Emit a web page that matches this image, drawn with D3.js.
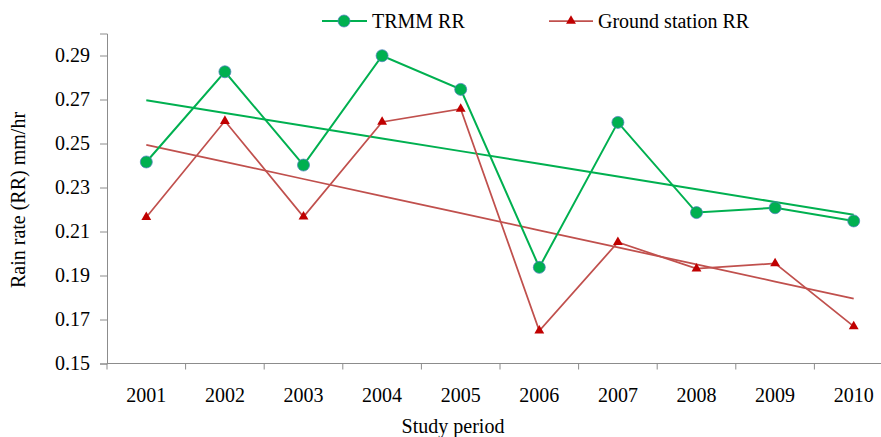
<!DOCTYPE html>
<html>
<head>
<meta charset="utf-8">
<script src="https://cdn.jsdelivr.net/npm/d3@7"></script>
<style>
  body { margin: 0; background: #fff; }
  svg text { font-family: "Liberation Serif", "Times New Roman", serif; fill: #000; }
</style>
</head>
<body>
<svg id="chart" width="881" height="437"></svg>
<script>
const years = ["2001", "2002", "2003", "2004", "2005", "2006", "2007", "2008", "2009", "2010"];
const trmm = [0.2416, 0.2826, 0.2402, 0.2899, 0.2746, 0.1937, 0.2596, 0.2186, 0.2208, 0.2148];
const ground = [0.2165, 0.2602, 0.2167, 0.2598, 0.2657, 0.1649, 0.2051, 0.1931, 0.1955, 0.1669];
const yTicks = [0.15, 0.17, 0.19, 0.21, 0.23, 0.25, 0.27, 0.29];

const green = "#00b050", red = "#c0504d", redMarker = "#c00000";
const serif = "'Liberation Serif','Times New Roman',serif";

const svg = d3.select("#chart");
const x = d3.scaleBand().domain(years).range([107, 893]).padding(0);
const y = d3.scaleLinear().domain([0.15, 0.30]).range([363.5, 33.5]);
const cx = d => x(d) + x.bandwidth() / 2;

// y axis
const yAxis = svg.append("g").attr("transform", "translate(107,0)")
  .call(d3.axisLeft(y).tickValues(yTicks).tickFormat(d3.format(".2f")).tickSizeOuter(0).tickSize(7).tickPadding(10))
  .attr("font-family", serif).attr("font-size", 20);
yAxis.select(".domain").attr("stroke", "#8c8c8c");
yAxis.selectAll(".tick line").attr("stroke", "#8c8c8c");

// x axis with ticks between categories
const xAxis = svg.append("g").attr("transform", "translate(0,363.5)");
xAxis.append("line").attr("x1", 107).attr("x2", 893).attr("stroke", "#8c8c8c");
xAxis.selectAll("line.t").data(years).enter().append("line").attr("class", "t")
  .attr("x1", d => x(d)).attr("x2", d => x(d)).attr("y1", 0).attr("y2", 6).attr("stroke", "#8c8c8c");
xAxis.selectAll("text").data(years).enter().append("text")
  .attr("x", d => cx(d)).attr("y", 38).attr("text-anchor", "middle").attr("font-size", 20).text(d => d);

// axis titles
svg.append("text").attr("x", 453).attr("y", 433).attr("text-anchor", "middle").attr("font-size", 20).text("Study period");
svg.append("text").attr("transform", "translate(25,200) rotate(-90)").attr("text-anchor", "middle")
  .attr("font-size", 20).text("Rain rate (RR) mm/hr");

// linear trend
function trend(vals) {
  const n = vals.length, xs = d3.range(1, n + 1);
  const mx = d3.mean(xs), my = d3.mean(vals);
  const b = d3.sum(xs, (v, i) => (v - mx) * (vals[i] - my)) / d3.sum(xs, v => (v - mx) ** 2);
  return xs.map(v => my + b * (v - mx));
}

const line = d3.line().x((d, i) => cx(years[i])).y(d => y(d));

svg.append("path").datum(trend(trmm)).attr("d", line).attr("fill", "none").attr("stroke", green).attr("stroke-width", 2);
svg.append("path").datum(trend(ground)).attr("d", line).attr("fill", "none").attr("stroke", red).attr("stroke-width", 1.75);

svg.append("path").datum(ground).attr("d", line).attr("fill", "none").attr("stroke", red).attr("stroke-width", 1.75);
svg.append("path").datum(trmm).attr("d", line).attr("fill", "none").attr("stroke", green).attr("stroke-width", 2);

const tri = d3.symbol().type(d3.symbolTriangle).size(42);
svg.selectAll("path.g").data(ground).enter().append("path").attr("class", "g")
  .attr("d", tri).attr("transform", (d, i) => `translate(${cx(years[i])},${y(d)})`)
  .attr("fill", redMarker);
svg.selectAll("circle.t").data(trmm).enter().append("circle").attr("class", "t")
  .attr("cx", (d, i) => cx(years[i])).attr("cy", d => y(d)).attr("r", 6)
  .attr("fill", green).attr("stroke", "#4f81bd").attr("stroke-width", 0.75);

// legend
const lg = svg.append("g");
lg.append("line").attr("x1", 322).attr("x2", 367).attr("y1", 21).attr("y2", 21).attr("stroke", green).attr("stroke-width", 2);
lg.append("circle").attr("cx", 344).attr("cy", 21).attr("r", 6).attr("fill", green).attr("stroke", "#4f81bd").attr("stroke-width", 0.75);
lg.append("text").attr("x", 372).attr("y", 28).attr("font-size", 20).text("TRMM RR");
lg.append("line").attr("x1", 549).attr("x2", 593).attr("y1", 21).attr("y2", 21).attr("stroke", red).attr("stroke-width", 1.75);
lg.append("path").attr("d", tri).attr("transform", "translate(571,21)").attr("fill", redMarker);
lg.append("text").attr("x", 598).attr("y", 28).attr("font-size", 20).text("Ground station RR");
</script>
</body>
</html>
